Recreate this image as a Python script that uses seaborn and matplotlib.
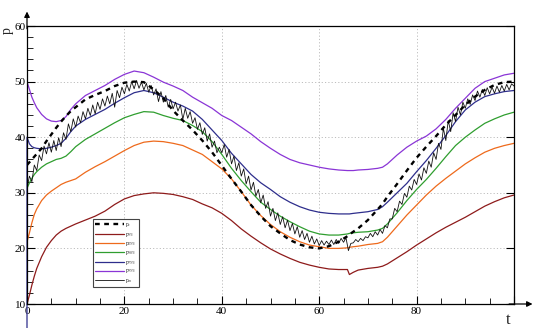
import numpy as np
import pandas as pd
import matplotlib
matplotlib.use("Agg")
import matplotlib.pyplot as plt
from matplotlib.ticker import MultipleLocator
import seaborn as sns

# ---------------- data ----------------
T = [0, 0.5, 1, 1.5, 2, 3, 4, 5, 6, 7, 8, 9, 10, 12, 14, 16, 18, 20, 22, 24,
     26, 28, 30, 32, 34, 36, 38, 40, 42, 44, 46, 48, 50, 52, 54, 56, 58, 60,
     62, 64, 65.8, 66.2, 67, 68, 70, 72, 73, 74, 76, 78, 80, 82, 84, 86, 88,
     90, 92, 94, 96, 98, 100]

P_S = [35.0, 35.5, 36.0, 36.5, 37.0, 38.0, 39.3, 40.5, 41.7, 42.8, 43.8, 44.7,
       45.4, 46.8, 47.6, 48.3, 49.2, 49.8, 50.0, 49.9, 48.6, 47.0, 44.8, 43.0,
       41.3, 39.4, 37.3, 34.9, 32.5, 30.2, 27.8, 25.8, 24.0, 22.7, 21.5, 20.7,
       20.2, 20.0, 20.4, 21.2, 22.2, 22.5, 23.0, 23.6, 25.1, 27.0, 28.0, 29.3,
       31.6, 34.0, 36.3, 38.3, 40.2, 42.2, 44.0, 45.8, 47.3, 48.5, 49.4, 49.9,
       50.0]

P05 = [10.0, 11.6, 13.4, 15.0, 16.4, 18.5, 20.2, 21.4, 22.4, 23.1, 23.6, 24.0,
       24.4, 25.1, 25.8, 26.7, 27.9, 28.9, 29.5, 29.8, 30.0, 29.9, 29.7, 29.3,
       28.8, 28.0, 27.3, 26.3, 25.0, 23.5, 22.2, 21.0, 19.9, 19.0, 18.2, 17.5,
       17.0, 16.6, 16.3, 16.2, 16.2, 15.3, 15.7, 16.1, 16.4, 16.6, 16.8, 17.2,
       18.3, 19.4, 20.6, 21.7, 22.8, 23.8, 24.7, 25.6, 26.6, 27.6, 28.4, 29.1,
       29.6]

P25 = [21.2, 22.8, 24.6, 26.1, 27.1, 28.6, 29.6, 30.3, 30.9, 31.5, 31.9, 32.2,
       32.5, 33.7, 34.7, 35.6, 36.6, 37.6, 38.5, 39.1, 39.3, 39.2, 38.9, 38.5,
       37.7, 36.9, 35.6, 34.3, 32.5, 30.2, 27.8, 25.9, 24.3, 23.0, 22.0, 21.2,
       20.6, 20.3, 20.0, 20.0, 20.1, 20.2, 20.3, 20.4, 20.7, 20.9, 21.2, 22.0,
       24.0, 26.0, 27.8, 29.6, 31.2, 32.6, 33.9, 35.2, 36.3, 37.3, 38.0, 38.5,
       38.9]

P50 = [30.8, 31.8, 32.6, 33.3, 33.8, 34.6, 35.2, 35.6, 36.0, 36.2, 36.6, 37.4,
       38.3, 39.6, 40.6, 41.6, 42.6, 43.5, 44.1, 44.6, 44.5, 43.9, 43.4, 43.0,
       42.1, 41.0, 39.2, 36.9, 34.4, 32.2, 30.2, 28.3, 27.0, 25.8, 24.8, 23.9,
       23.1, 22.6, 22.4, 22.4, 22.6, 22.7, 22.8, 22.9, 23.0, 23.3, 23.6, 24.4,
       26.4, 28.6, 30.6, 32.4, 34.4, 36.5, 38.5, 40.0, 41.3, 42.5, 43.3, 44.0,
       44.5]

T_75 = [0] + T
P75 = [0.0,
       40.0, 38.8, 38.3, 38.1, 38.0, 37.9, 38.0, 38.2, 38.5, 38.9, 39.8, 41.0,
       42.0, 43.2, 44.1, 45.0, 46.1, 47.1, 48.0, 48.4, 48.0, 47.2, 46.3, 45.6,
       44.7, 43.2, 41.3, 39.4, 37.1, 35.2, 33.3, 31.8, 30.6, 29.3, 28.3, 27.5,
       26.9, 26.5, 26.3, 26.2, 26.2, 26.2, 26.3, 26.4, 26.6, 27.0, 27.5, 28.3,
       30.0, 31.7, 33.8, 35.8, 38.0, 40.3, 42.8, 44.9, 46.3, 47.3, 47.8, 48.2,
       48.4]

P95 = [50.0, 48.6, 47.2, 46.2, 45.3, 44.1, 43.3, 42.9, 42.8, 43.0, 43.7, 45.0,
       46.0, 47.5, 48.4, 49.3, 50.4, 51.3, 51.9, 51.6, 50.8, 49.9, 49.2, 48.4,
       47.2, 46.2, 45.2, 43.9, 43.0, 41.8, 40.6, 39.2, 38.0, 36.9, 36.0, 35.4,
       35.0, 34.6, 34.3, 34.1, 34.0, 34.0, 34.0, 34.1, 34.2, 34.4, 34.6, 35.2,
       36.8, 38.2, 39.3, 40.2, 41.5, 43.2, 45.2, 47.0, 48.8, 50.0, 50.6, 51.2,
       51.5]

T_M = list(np.arange(0, 100.5, 0.5))
P_M = [30.8, 33.0, 32.0, 35.0, 34.0, 36.8, 35.8, 38.4, 37.0, 39.0,
       37.3, 39.4, 37.6, 39.9, 38.3, 40.8, 39.6, 42.4, 41.0, 43.3,
       41.8, 43.8, 42.6, 44.6, 43.3, 45.2, 43.9, 45.8, 44.2, 46.3,
       45.0, 46.9, 45.6, 47.4, 46.0, 47.9, 45.4, 48.4, 47.1, 49.0,
       47.8, 49.5, 48.3, 50.0, 48.7, 50.2, 48.8, 49.9, 48.5, 49.7,
       48.1, 49.3, 47.6, 48.7, 46.4, 48.2, 46.3, 47.5, 45.4, 46.8,
       45.1, 46.3, 44.7, 45.8, 43.2, 45.2, 43.4, 44.6, 42.5, 43.5,
       41.4, 42.6, 40.5, 41.7, 39.3, 40.6, 38.2, 39.3, 37.2, 38.2,
       37.2, 38.7, 36.4, 37.8, 35.2, 36.6, 34.0, 35.4, 33.0, 34.3,
       31.6, 33.0, 30.5, 31.9, 29.4, 30.6, 28.2, 29.6, 27.2, 28.4,
       25.8, 27.2, 25.0, 26.4, 24.3, 25.7, 23.7, 25.1, 23.2, 24.5,
       22.6, 23.9, 22.0, 23.2, 21.6, 22.7, 21.1, 22.2, 20.8, 21.7,
       20.5, 21.4, 20.6, 21.3, 20.7, 21.5, 20.7, 21.6, 20.9, 21.8,
       21.1, 21.9, 19.6, 20.9, 21.0, 21.6, 21.2, 21.8, 21.4, 22.1,
       21.9, 22.7, 22.1, 23.0, 22.4, 23.4, 22.7, 24.1, 23.7, 25.3,
       25.3, 27.2, 26.6, 28.5, 27.9, 29.9, 29.2, 31.2, 30.5, 32.4,
       31.5, 33.4, 32.3, 34.5, 33.5, 35.7, 34.6, 37.2, 36.0, 38.9,
       37.8, 41.6, 39.4, 43.0, 41.0, 44.4, 42.8, 45.4, 44.0, 46.3,
       45.2, 46.9, 45.9, 47.6, 46.6, 48.3, 47.2, 48.6, 47.5, 48.9,
       47.8, 49.0, 47.9, 49.2, 48.1, 49.3, 48.3, 49.5, 48.5, 49.6,
       49.2]

LABELS = ["p$_s$", "p$_{5\\%}$", "p$_{25\\%}$", "p$_{50\\%}$", "p$_{75\\%}$",
          "p$_{95\\%}$", "p$_m$"]
X_TICKS = [0, 20, 40, 60, 80, 100]
X_TICKLABELS = ["0", "20", "40", "60", "80", ""]
Y_TICKS = [10, 20, 30, 40, 50, 60]

# ---------------- style ----------------
sns.set_style("white")
plt.rcParams['font.family'] = ['Liberation Serif', 'DejaVu Serif']
plt.rcParams['mathtext.fontset'] = 'stix'

fig = plt.figure(figsize=(5.34, 3.28), dpi=100)
ax = fig.add_axes([27 / 534, 24 / 328, 487 / 534, 278 / 328])

C_RED = "#8e1b1b"
C_ORA = "#ee6a1c"
C_GRN = "#2f9e2f"
C_BLU = "#2e2e8c"
C_PUR = "#8a35d6"

sns.lineplot(x=T, y=P05, color=C_RED, lw=0.9, ax=ax, label=LABELS[1],
             sort=False, estimator=None)
sns.lineplot(x=T, y=P25, color=C_ORA, lw=0.9, ax=ax, label=LABELS[2],
             sort=False, estimator=None)
sns.lineplot(x=T, y=P50, color=C_GRN, lw=0.9, ax=ax, label=LABELS[3],
             sort=False, estimator=None)
sns.lineplot(x=T_75, y=P75, color=C_BLU, lw=0.9, ax=ax, label=LABELS[4],
             sort=False, estimator=None)
sns.lineplot(x=T, y=P95, color=C_PUR, lw=0.9, ax=ax, label=LABELS[5],
             sort=False, estimator=None)
sns.lineplot(x=T_M, y=P_M, color="#111111", lw=0.6, ax=ax, label=LABELS[6],
             sort=False, estimator=None)
sns.lineplot(x=T, y=P_S, color="black", lw=1.7, ax=ax, label=LABELS[0],
             sort=False, estimator=None, dashes=False)

lines = ax.get_lines()
lines[-1].set_dashes([2.0, 1.9])
lines[3].set_clip_on(False)  # blue start drops below the axis

ax.set_xlim(0, 100)
ax.set_ylim(10, 60)
ax.set_xlabel("")
ax.set_ylabel("")
ax.set_xticks(X_TICKS)
ax.set_xticklabels(X_TICKLABELS)
ax.set_yticks(Y_TICKS)
ax.xaxis.set_minor_locator(MultipleLocator(5))
ax.yaxis.set_minor_locator(MultipleLocator(2))
ax.tick_params(which='both', direction='in', colors='black', labelsize=8,
               top=False, bottom=True, left=True)
ax.tick_params(which='major', length=6, width=0.8, right=True)
ax.tick_params(which='minor', length=4, width=0.6, right=False)
ax.tick_params(axis='y', pad=1)
ax.tick_params(axis='x', pad=2)

ax.grid(True, which='major', linestyle=(0, (1.2, 2.2)), color='#bdbdbd', lw=0.7)
for s in ax.spines.values():
    s.set_color('black')
    s.set_linewidth(0.9)

# axis arrows
ax.annotate('', xy=(0, 1.052), xytext=(0, 0.99), xycoords='axes fraction',
            arrowprops=dict(arrowstyle='-|>', color='black', lw=0.9,
                            mutation_scale=8, shrinkA=0, shrinkB=0),
            annotation_clip=False)
ax.annotate('', xy=(1.038, 0), xytext=(0.99, 0), xycoords='axes fraction',
            arrowprops=dict(arrowstyle='-|>', color='black', lw=0.9,
                            mutation_scale=8, shrinkA=0, shrinkB=0),
            annotation_clip=False)

fig.text(7 / 534, 1 - 31 / 328, "p", rotation=90, ha='center',
         va='center', fontsize=10)
fig.text(508 / 534, 1 - 320 / 328, "t", ha='center', va='center', fontsize=12)

# legend in reference order
handles, labels = ax.get_legend_handles_labels()
order = [labels.index(l) for l in LABELS]
leg = ax.legend([handles[i] for i in order], [labels[i] for i in order],
                loc='upper left', bbox_to_anchor=(0.1355, 0.305),
                fontsize=4, frameon=True, fancybox=False, edgecolor='#444444',
                handlelength=5.2, handletextpad=0.3, borderpad=0.35,
                labelspacing=0.25, borderaxespad=0, framealpha=1)
leg.get_frame().set_linewidth(0.8)

fig.savefig("out.png", dpi=100)
